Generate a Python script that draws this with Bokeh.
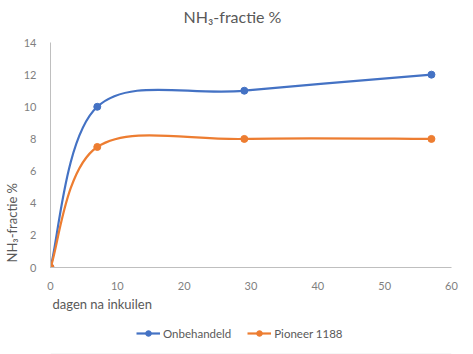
from bokeh.plotting import figure
from bokeh.models import Title, Label, Legend, LegendItem, ColumnDataSource, Range1d, FixedTicker, Span
from bokeh.layouts import column
from bokeh.embed import file_html
from bokeh.resources import INLINE

# ---- data ----
days = [0, 7, 29, 57]
onbehandeld = [0, 10, 11, 12]
pioneer = [0, 7.5, 8, 8]
x_ticks = [0, 10, 20, 30, 40, 50, 60]
y_ticks = [0, 2, 4, 6, 8, 10, 12, 14]
title_text = "NH\u2083-fractie %"
y_label = "NH\u2083-fractie %"
x_label = "dagen na inkuilen"
series_names = ["Onbehandeld", "Pioneer 1188"]
colors = ["#4472C4", "#ED7D31"]

FONT = "Lato"
TXT = "#595959"


def smooth_segments(xs, ys, f=1.0 / 6.0):
    """Catmull-Rom style bezier control points (like a spreadsheet's smoothed line)."""
    n = len(xs)
    d = dict(x0=[], y0=[], x1=[], y1=[], cx0=[], cy0=[], cx1=[], cy1=[])
    for i in range(n - 1):
        p0 = (xs[max(i - 1, 0)], ys[max(i - 1, 0)])
        p1 = (xs[i], ys[i])
        p2 = (xs[i + 1], ys[i + 1])
        p3 = (xs[min(i + 2, n - 1)], ys[min(i + 2, n - 1)])
        d["x0"].append(p1[0]); d["y0"].append(p1[1])
        d["x1"].append(p2[0]); d["y1"].append(p2[1])
        d["cx0"].append(p1[0] + (p2[0] - p0[0]) * f)
        d["cy0"].append(p1[1] + (p2[1] - p0[1]) * f)
        d["cx1"].append(p2[0] - (p3[0] - p1[0]) * f)
        d["cy1"].append(p2[1] - (p3[1] - p1[1]) * f)
    return ColumnDataSource(d)


def strip(height):
    f = figure(width=473, height=height, output_backend="svg", toolbar_location=None,
               x_range=Range1d(-100, -99), y_range=Range1d(0, 1),
               x_axis_type=None, y_axis_type=None,
               min_border_left=0, min_border_right=0, min_border_top=0, min_border_bottom=0)
    f.outline_line_color = None
    f.xgrid.grid_line_color = None
    f.ygrid.grid_line_color = None
    return f


# ---- title strip ----
head = strip(32)
head.add_layout(Label(x=182, y=16, x_units="screen", y_units="screen", text=title_text,
                      text_align="center", text_baseline="middle", text_font=FONT,
                      text_font_size="16px", text_color=TXT))

# ---- main chart ----
p = figure(width=473, height=280, output_backend="svg", toolbar_location=None,
           x_range=Range1d(0, 60), y_range=Range1d(0, 14),
           min_border_left=50, min_border_right=22, min_border_top=10, min_border_bottom=44)
p.outline_line_color = None
p.xgrid.grid_line_color = None
p.ygrid.grid_line_color = None

for ax in (p.xaxis[0], p.yaxis[0]):
    ax.axis_line_color = "#BFBFBF"
    ax.axis_line_width = 1
    ax.major_tick_line_color = None
    ax.minor_tick_line_color = None
    ax.major_label_text_font = FONT
    ax.major_label_text_font_size = "11px"
    ax.major_label_text_color = "#7F7F7F"
p.xaxis.ticker = FixedTicker(ticks=x_ticks)
p.yaxis.ticker = FixedTicker(ticks=y_ticks)
p.xaxis.major_label_standoff = 8
p.yaxis.major_label_standoff = 8

for ys, c in zip([onbehandeld, pioneer], colors):
    src = smooth_segments(days, ys)
    p.bezier(x0="x0", y0="y0", x1="x1", y1="y1", cx0="cx0", cy0="cy0",
             cx1="cx1", cy1="cy1", source=src, line_color=c, line_width=2.2)
    p.scatter(days, ys, size=7, fill_color=c, line_color=c, marker="circle")

p.add_layout(Title(text=y_label, align="left", offset=5, standoff=1, text_font=FONT,
                   text_font_size="13px", text_font_style="normal", text_color=TXT), "left")
p.add_layout(Title(text=x_label, align="left", offset=2, standoff=2, text_font=FONT,
                   text_font_size="13px", text_font_style="normal", text_color=TXT), "below")

# ---- legend strip (its sample marks sit outside its view) ----
lg = strip(42)
items = []
for name, ys, c in zip(series_names, [onbehandeld, pioneer], colors):
    l = lg.line(days, ys, line_color=c, line_width=2.2)
    s = lg.scatter(days, ys, size=7, fill_color=c, line_color=c, marker="circle")
    items.append(LegendItem(label=name, renderers=[l, s]))
legend = Legend(items=items, orientation="horizontal", location=(86, 14),
                label_text_font=FONT, label_text_font_size="11.5px", label_text_color=TXT,
                glyph_width=24, glyph_height=14, label_standoff=3, spacing=16,
                padding=2, margin=0, border_line_color=None, background_fill_alpha=0)
lg.add_layout(legend, "center")
lg.add_layout(Span(location=0, dimension="width", line_color="#D9D9D9", line_width=1.5))

open("out.html", "w").write(file_html(column(head, p, lg), INLINE))
